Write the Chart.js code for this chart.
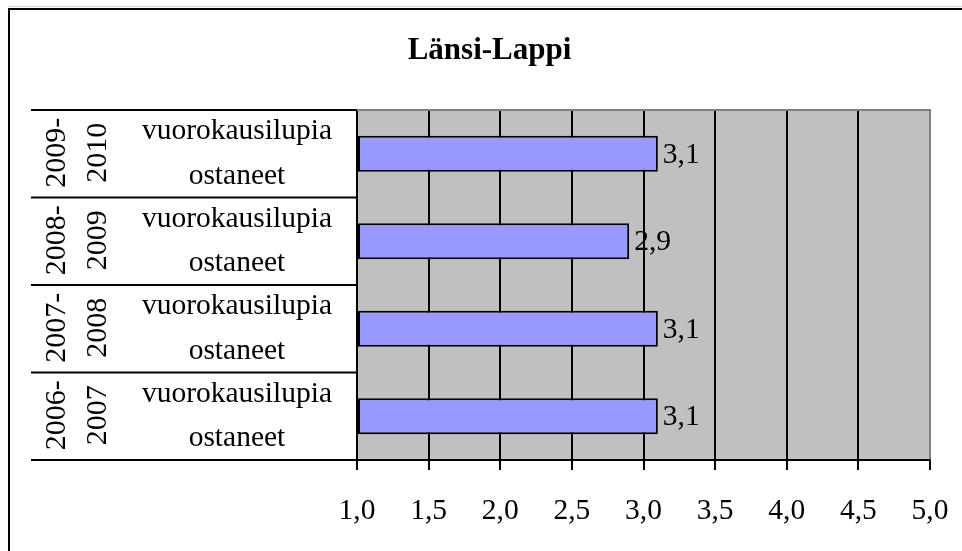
<!DOCTYPE html>
<html>
<head>
<meta charset="utf-8">
<script src="https://cdn.jsdelivr.net/npm/chart.js@4"></script>
<style>
  html, body { margin: 0; padding: 0; background: #ffffff; }
  #wrap { width: 962px; height: 551px; }
</style>
</head>
<body>
<div id="wrap"><canvas id="c" width="962" height="551"></canvas></div>
<script>
// ---- data ----
const titleText = 'Länsi-Lappi';
const periods = ['2009-2010', '2008-2009', '2007-2008', '2006-2007'];
const groupLabel = ['vuorokausilupia', 'ostaneet'];
const values = [3.1, 2.9, 3.1, 3.1];
const xTickLabels = ['1,0', '1,5', '2,0', '2,5', '3,0', '3,5', '4,0', '4,5', '5,0'];
const xMin = 1, xMax = 5, xStep = 0.5;

const FONT = 'Liberation Serif';
const fmt = v => v.toFixed(1).replace('.', ',');

const decorPlugin = {
  id: 'decor',
  beforeDraw(chart) {
    const ctx = chart.ctx, a = chart.chartArea;
    ctx.save();
    ctx.fillStyle = '#ffffff';
    ctx.fillRect(0, 0, chart.width, chart.height);
    // plot background
    ctx.fillStyle = '#C0C0C0';
    ctx.fillRect(a.left, a.top, a.right - a.left, a.bottom - a.top);
    // outer frame (top + left visible)
    ctx.strokeStyle = '#d0d0d0';
    ctx.lineWidth = 1;
    ctx.beginPath();
    ctx.moveTo(8, 6.5); ctx.lineTo(chart.width, 6.5);
    ctx.stroke();
    ctx.strokeStyle = '#000000';
    ctx.lineWidth = 2;
    ctx.beginPath();
    ctx.moveTo(9, chart.height); ctx.lineTo(9, 9); ctx.lineTo(chart.width, 9);
    ctx.stroke();
    ctx.restore();
  },
  beforeDatasetsDraw(chart) {
    const ctx = chart.ctx, a = chart.chartArea;
    ctx.save();
    ctx.strokeStyle = '#808080';
    ctx.lineWidth = 2;
    ctx.beginPath();
    ctx.moveTo(a.left, a.top); ctx.lineTo(a.right, a.top); ctx.lineTo(a.right, a.bottom - 1);
    ctx.stroke();
    ctx.restore();
  },
  afterDatasetsDraw(chart) {
    const ctx = chart.ctx;
    const meta = chart.getDatasetMeta(0);
    ctx.save();
    ctx.fillStyle = '#000000';
    ctx.font = '29.5px "' + FONT + '"';
    ctx.textAlign = 'left';
    ctx.textBaseline = 'middle';
    meta.data.forEach((bar, i) => {
      ctx.fillText(fmt(values[i]), bar.x + 5, bar.y + 1);
    });
    ctx.restore();
  },
  afterDraw(chart) {
    const ctx = chart.ctx, ys = chart.scales.y;
    const n = periods.length;
    const band = (ys.bottom - ys.top) / n;
    ctx.save();
    // category separators
    ctx.strokeStyle = '#000000';
    ctx.lineWidth = 2;
    ctx.beginPath();
    for (let k = 0; k <= n; k++) {
      const y = ys.top + k * band;
      ctx.moveTo(31, y); ctx.lineTo(ys.right, y);
    }
    ctx.stroke();
    // rotated period labels
    ctx.fillStyle = '#000000';
    ctx.font = '30px "' + FONT + '"';
    ctx.textAlign = 'center';
    ctx.textBaseline = 'middle';
    periods.forEach((p, i) => {
      const yc = ys.getPixelForValue(i);
      const parts = p.split('-');
      const lines = [parts[0] + '-', parts[1]];
      const xs2 = [57, 98];
      lines.forEach((t, j) => {
        ctx.save();
        ctx.translate(xs2[j], yc - 1);
        ctx.rotate(-Math.PI / 2);
        ctx.fillText(t, 0, 0);
        ctx.restore();
      });
    });
    ctx.restore();
  }
};

new Chart(document.getElementById('c'), {
  type: 'bar',
  data: {
    labels: periods,
    datasets: [{
      data: values,
      base: xMin,
      backgroundColor: '#9999FF',
      borderColor: '#000000',
      borderWidth: 2,
      borderSkipped: false,
      categoryPercentage: 1.0,
      barPercentage: 0.41
    }]
  },
  options: {
    indexAxis: 'y',
    responsive: false,
    animation: false,
    devicePixelRatio: 1,
    layout: { padding: { left: 49, right: 32, top: 0, bottom: 0 } },
    plugins: {
      legend: { display: false },
      tooltip: { enabled: false },
      title: {
        display: true,
        text: titleText,
        color: '#000000',
        font: { family: FONT, size: 31, weight: 'bold', lineHeight: 1.2 },
        padding: { top: 32.4, bottom: 40.4 }
      }
    },
    scales: {
      x: {
        type: 'linear',
        position: 'bottom',
        min: xMin,
        max: xMax,
        afterFit(scale) { scale.height = 91; scale.paddingLeft = 0; scale.paddingRight = 0; },
        ticks: {
          stepSize: xStep,
          color: '#000000',
          padding: 24,
          maxRotation: 0,
          autoSkip: false,
          font: { family: FONT, size: 29.5, lineHeight: 1.2 },
          callback: (v, i) => xTickLabels[i]
        },
        grid: { color: '#000000', lineWidth: 2, tickLength: 10, drawTicks: true },
        border: { color: '#000000', width: 2 }
      },
      y: {
        type: 'category',
        position: 'left',
        afterFit(scale) { scale.width = 308; },
        ticks: {
          color: '#000000',
          crossAlign: 'center',
          padding: 25,
          autoSkip: false,
          font: { family: FONT, size: 29.5, lineHeight: 1.5 },
          callback: () => groupLabel
        },
        grid: { display: false, drawTicks: false },
        border: { display: true, color: '#000000', width: 2 }
      }
    }
  },
  plugins: [decorPlugin]
});
</script>
</body>
</html>
